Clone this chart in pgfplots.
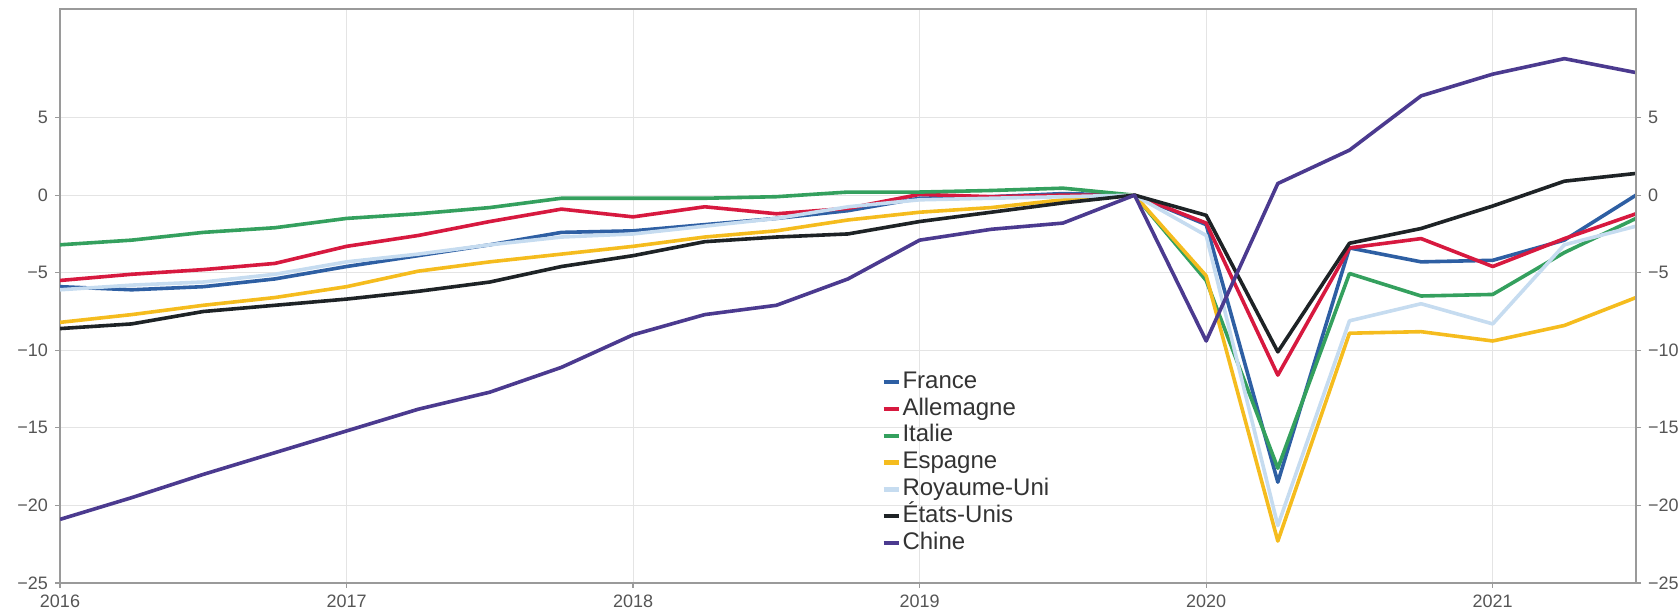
\documentclass[border=0pt]{standalone}
\usepackage{fontspec}
\setmainfont{Liberation Sans}
\usepackage{pgfplots}
\usepackage{pgfplotstable}
\pgfplotsset{compat=1.18}
\usetikzlibrary{calc}

\definecolor{cfr}{HTML}{2E5FA3}
\definecolor{cde}{HTML}{D7193F}
\definecolor{cit}{HTML}{34A05E}
\definecolor{ces}{HTML}{F5BC1E}
\definecolor{cuk}{HTML}{C6DCF0}
\definecolor{cus}{HTML}{1E2326}
\definecolor{ccn}{HTML}{4B3A8F}
\definecolor{axisgray}{HTML}{9A9A9A}
\definecolor{gridgray}{HTML}{E4E4E4}
\definecolor{labelgray}{HTML}{555555}

% quarterly values, index 0 = peak at 2019Q4
\pgfplotstableread{
x       fr    de    it    es    uk    us    cn
2016.00 -5.9  -5.5  -3.2  -8.2  -6.1  -8.6  -20.9
2016.25 -6.1  -5.1  -2.9  -7.7  -5.8  -8.3  -19.5
2016.50 -5.9  -4.8  -2.4  -7.1  -5.6  -7.5  -18.0
2016.75 -5.4  -4.4  -2.1  -6.6  -5.1  -7.1  -16.6
2017.00 -4.6  -3.3  -1.5  -5.9  -4.3  -6.7  -15.2
2017.25 -3.9  -2.6  -1.2  -4.9  -3.8  -6.2  -13.8
2017.50 -3.2  -1.7  -0.8  -4.3  -3.2  -5.6  -12.7
2017.75 -2.4  -0.9  -0.2  -3.8  -2.7  -4.6  -11.1
2018.00 -2.3  -1.4  -0.2  -3.3  -2.5  -3.9  -9.0
2018.25 -1.9  -0.75 -0.2  -2.7  -2.0  -3.0  -7.7
2018.50 -1.5  -1.2  -0.1  -2.3  -1.5  -2.7  -7.1
2018.75 -1.0  -0.85  0.2  -1.6  -0.75 -2.5  -5.4
2019.00 -0.2   0.05  0.2  -1.1  -0.3  -1.7  -2.9
2019.25 -0.1  -0.1   0.3  -0.8  -0.2  -1.1  -2.2
2019.50  0.1   0.0   0.45 -0.3  -0.1  -0.5  -1.8
2019.75  0     0     0     0     0     0     0
2020.00 -1.9  -1.8  -5.5  -5.2  -2.6  -1.3  -9.4
2020.25 -18.5 -11.6 -17.6 -22.3 -21.3 -10.1  0.75
2020.50 -3.4  -3.4  -5.05 -8.9  -8.1  -3.1   2.9
2020.75 -4.3  -2.8  -6.5  -8.8  -7.0  -2.15  6.4
2021.00 -4.2  -4.6  -6.4  -9.4  -8.3  -0.7   7.8
2021.25 -2.9  -2.8  -3.7  -8.4  -3.2   0.9   8.8
2021.50  0.0  -1.2  -1.5  -6.6  -2.0   1.4   7.9
}\data

\pgfplotsset{
  base/.style={
    scale only axis, width=788pt, height=287pt,
    xmin=2016, xmax=2021.5, ymin=-25, ymax=12,
    axis line style={draw=axisgray, line width=0.8pt},
    tick style={draw=axisgray, line width=0.6pt},
    tick align=outside, major tick length=2.5pt,
    ytick={-25,-20,...,5},
    yticklabels={−25,−20,−15,−10,−5,0,5},
    ticklabel style={font=\fontsize{9}{9}\selectfont, text=labelgray},
    /pgf/number format/assume math mode=true,
  },
  every axis plot/.append style={line width=1.8pt, line join=round},
}

\begin{document}
\begin{tikzpicture}
\begin{axis}[
    base, name=ax,
    xtick={2016,2017,2018,2019,2020,2021},
    xticklabels={2016,2017,2018,2019,2020,2021},
    xtick pos=bottom, ytick pos=left,
    grid=major, grid style={gridgray, line width=0.5pt},
    legend style={at={(0.521,0.374)}, anchor=north west, draw=none, fill=none,
      inner sep=0pt, font=\fontsize{12}{12}\selectfont, text=black!80,
      row sep=0pt, column sep=0pt,
      nodes={inner sep=0.8pt, text height=9pt, text depth=2.8pt}},
    legend cell align=left,
    legend image code/.code={\draw[#1, line width=2.2pt] (0pt,0pt) -- (7.5pt,0pt);},
]
\addplot[cfr] table[x=x, y=fr] {\data};
\addplot[cde] table[x=x, y=de] {\data};
\addplot[cit] table[x=x, y=it] {\data};
\addplot[ces] table[x=x, y=es] {\data};
\addplot[cuk] table[x=x, y=uk] {\data};
\addplot[cus] table[x=x, y=us] {\data};
\addplot[ccn] table[x=x, y=cn] {\data};
\legend{France, Allemagne, Italie, Espagne, Royaume-Uni, États-Unis, Chine}
\end{axis}
\begin{axis}[
    base,
    axis x line=none, axis y line*=right,
    ytick pos=right, yticklabel pos=right,
]
\end{axis}
\pgfresetboundingbox
\path[use as bounding box] ($(ax.south west)+(-30pt,-15pt)$) rectangle ($(ax.north east)+(21.5pt,4.5pt)$);
\end{tikzpicture}
\end{document}
